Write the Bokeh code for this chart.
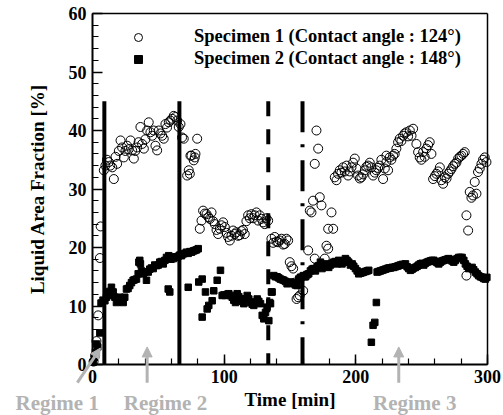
from bokeh.plotting import figure
from bokeh.models import (Range1d, FixedTicker, Legend, LegendItem, Arrow, NormalHead,
                          LinearAxis)
from bokeh.core.properties import value
from bokeh.embed import file_html
from bokeh.resources import INLINE

# ---------------- data ----------------
t1 = [0.8, 2.0, 3.0, 4.3, 5.6, 6.2,
      8.6, 9.8, 11.0, 12.4, 13.5, 15.0, 16.2, 17.5, 18.7, 20.0, 21.3, 22.5, 23.8, 25.0, 26.3, 27.5,
      28.9, 30.1, 31.4, 32.5, 33.9, 35.0, 36.4, 37.7, 39.0, 40.2, 41.5, 42.7, 44.0, 45.3, 46.5, 47.8,
      49.1, 50.3, 51.6, 52.9, 54.1, 55.4, 56.6, 57.9, 59.2, 60.5, 61.7, 63.0, 64.3, 65.5, 66.8,
      68.0, 69.3, 71.9, 73.1, 73.9, 74.4, 75.2, 76.9, 77.7, 78.2, 79.5,
      81.5, 82.8, 84.0, 85.3, 86.6, 88.0, 89.1, 90.4, 91.6, 92.9, 94.2, 95.4, 96.7, 98.0, 99.2, 100.5,
      101.8, 103.0, 104.3, 105.5, 106.8, 108.0, 109.3, 110.5, 111.8, 113.1, 114.3, 115.6, 116.9, 118.2,
      119.5, 120.7, 122.0, 123.2, 124.5, 125.8, 127.0, 128.3, 129.6, 130.8, 132.1, 133.4,
      135.9, 137.2, 138.4, 139.7, 141.0, 142.2, 143.5, 144.8, 146.0, 147.3, 148.6, 149.8, 151.1, 152.4,
      153.7, 155.0, 156.2, 157.4, 158.7,
      160.0, 162.5, 163.8, 165.0, 166.3, 167.5, 168.8, 168.8, 170.1, 171.4, 172.6, 173.9, 176.4, 177.7,
      179.0, 179.0, 181.5, 182.8,
      184.0, 185.3, 186.5, 187.8, 189.0, 190.3, 191.6, 192.9, 194.1, 195.4, 196.7, 197.9, 199.2, 200.5,
      201.7, 203.0, 204.2, 205.5, 206.8, 208.0, 209.3, 210.6, 211.8, 213.1, 214.4, 215.6, 216.9, 218.1,
      219.4, 220.7, 222.0, 223.2, 223.2,
      224.5, 225.7, 227.0, 228.3, 229.5, 230.8, 232.1, 233.3, 234.6, 235.9, 237.1, 238.4, 239.7, 241.0,
      242.3, 243.5,
      246.0, 247.3, 248.5, 249.8, 251.1, 252.3, 253.6, 254.9, 256.1, 257.4,
      258.7, 260.0, 261.2, 262.5, 263.8, 265.0, 266.3, 267.6, 268.9, 270.1, 271.4, 272.6, 273.9, 275.2,
      276.4, 277.7, 279.0, 280.2, 281.5, 282.7,
      284.0, 284.0, 285.3, 286.5, 287.8, 289.0, 290.3, 291.6, 292.8, 294.1, 295.4, 296.6, 297.9, 299.2]
v1 = [0.5, 1.5, 4.0, 8.4, 18.2, 23.6,
      33.2, 34.0, 35.0, 34.6, 34.0, 33.7, 31.7, 35.5, 34.3, 36.5, 38.3, 37.1, 35.4, 36.5, 37.4, 36.8,
      38.3, 36.6, 35.2, 36.5, 37.1, 38.0, 40.6, 37.7, 36.9, 38.5, 40.0, 41.4, 39.7, 39.1, 40.0, 37.4,
      36.6, 40.0, 39.5, 39.1, 38.6, 41.1, 40.5, 41.4, 41.7, 42.0, 42.5, 42.3, 41.7, 40.6, 41.1,
      38.8, 38.6, 32.3, 33.2, 32.6, 35.7, 35.7, 34.9, 35.4, 36.0, 38.6,
      23.2, 24.6, 26.3, 25.8, 25.7, 25.2, 24.9, 26.0, 24.5, 24.0, 23.0, 22.3, 23.2, 23.8, 24.3, 23.5,
      22.5, 21.8, 21.2, 22.0, 22.9, 22.3, 22.6, 22.0, 22.1, 22.8, 23.0, 22.3, 24.5, 25.5,
      25.0, 25.7, 25.0, 25.5, 26.0, 24.6, 25.5, 24.9, 24.3, 24.0, 25.0, 24.6,
      21.5, 20.8, 21.8, 21.0, 20.9, 21.2, 21.5, 20.5, 20.6, 21.5, 21.2, 17.5, 16.8, 16.4,
      14.0, 11.2, 11.5, 11.8, 14.9,
      12.6, 15.2, 19.5, 26.3, 26.0, 28.0, 18.1, 34.3, 40.0, 36.9, 28.6, 27.2, 18.1, 20.3,
      19.8, 23.2, 26.0, 23.2,
      32.0, 31.5, 32.6, 33.2, 32.8, 33.7, 33.0, 34.0, 32.3, 33.0, 33.7, 34.5, 35.2, 33.5,
      32.3, 31.8, 32.0, 32.5, 33.2, 33.8, 34.0, 34.5, 33.7, 32.3, 32.8, 33.2, 33.6, 34.0,
      35.0, 31.7, 33.5, 34.6, 35.7,
      33.2, 35.4, 35.0, 35.7, 36.0, 36.9, 38.0, 38.6, 38.2, 39.1, 39.5, 39.7, 39.0, 40.0,
      39.1, 40.3,
      37.7, 36.3, 35.4, 35.0, 36.3, 35.5, 36.9, 37.5, 38.0, 36.0,
      31.7, 32.2, 32.6, 33.0, 33.7, 31.5, 30.9, 32.0, 31.8, 32.6, 33.0, 33.4, 33.9, 34.3,
      34.5, 35.2, 35.5, 35.7, 36.0, 36.3,
      25.5, 15.2, 22.9, 29.5, 28.5, 28.9, 31.2, 29.2, 32.9, 33.5, 34.3, 35.0, 35.4, 34.6]

t2 = [0.5, 1.5, 2.2, 3.0, 4.0, 5.6, 6.5, 8.0,
      9.4, 10.6, 11.9, 13.1, 14.4, 15.7, 17.0, 18.2, 19.5, 20.7, 22.0, 23.3, 24.5, 25.8, 27.0, 28.3,
      29.6, 30.9, 32.1, 33.4, 34.7, 35.2, 35.9, 36.4, 37.2, 38.5, 39.7, 41.0, 42.3, 43.5, 44.8, 46.1,
      47.3, 48.6, 49.9, 51.1, 52.4, 53.7, 55.0, 56.2, 57.5, 58.7, 57.9, 59.6, 61.3, 62.5, 63.8, 65.0,
      66.3, 67.6, 68.8, 70.1, 71.4, 72.7, 72.7, 74.0, 75.2, 76.5, 77.8, 79.0, 80.3,
      80.7, 83.3, 83.3, 85.8, 87.1, 88.3, 90.9, 92.1, 94.7, 97.2, 98.5, 99.8, 101.0, 102.3, 103.5,
      104.8, 106.1, 107.3, 108.6, 109.9, 111.1, 112.4, 113.7, 114.9, 116.2, 117.5, 118.7, 120.0,
      121.3, 122.5, 123.8, 125.1, 126.3, 127.6, 128.9, 130.1, 131.4, 132.6, 133.9,
      134.6, 135.2, 135.9, 136.4, 137.7, 139.0, 140.2, 141.5, 142.7, 144.0, 145.3, 146.5, 147.8,
      149.1, 150.3, 151.6, 152.9, 154.1, 155.4, 156.6, 157.9,
      160.4, 161.7, 162.9, 164.2, 165.5, 166.8, 168.0, 169.3, 170.6, 171.8, 173.1, 174.3, 175.6,
      176.9, 178.1, 179.4, 180.7, 181.9, 183.2, 184.5, 185.7, 187.0, 188.2, 189.5, 190.8, 192.1,
      193.3, 194.6, 195.9, 197.2, 198.4, 199.7, 201.0, 202.2, 203.5, 204.8, 206.0, 207.3, 208.6,
      209.8, 216.2, 217.5, 218.7, 220.0, 221.3, 222.5, 223.8, 225.1, 226.3, 227.6, 228.8, 230.1,
      231.4, 232.6, 233.9, 235.2, 236.4, 237.7, 239.0, 240.2, 241.5, 242.8, 244.0, 245.3, 246.6,
      247.8, 249.0, 250.3, 251.6, 252.8, 254.1, 255.4, 256.6, 257.9, 259.2, 260.5, 261.7, 263.0,
      264.3, 265.5, 266.8, 268.0, 269.3, 270.6, 271.8, 273.1, 274.4, 275.6, 276.9, 278.2, 279.4,
      280.7, 282.0, 283.2, 284.5, 285.7, 287.0, 288.3, 289.5, 290.8, 292.1, 293.3, 294.6, 295.9,
      297.1, 298.4, 299.5,
      211.8, 213.1, 214.4, 215.6]
v2 = [0.4, 1.2, 2.1, 3.5, 3.0, 5.4, 10.5, 11.0,
      10.9, 11.5, 11.8, 12.5, 13.2, 12.4, 11.5, 10.6, 11.0, 11.5, 10.8, 10.6, 11.5, 12.9, 13.0, 13.5,
      14.0, 14.4, 14.5, 14.6, 15.5, 17.5, 17.8, 17.2, 16.0, 15.5, 15.8, 14.4, 15.8, 16.3, 16.5, 16.4,
      17.0, 16.9, 17.0, 17.5, 17.6, 17.2, 17.8, 18.3, 12.9, 12.4, 18.6, 18.0, 18.1, 18.4, 18.3, 18.5,
      18.7, 18.6, 18.9, 19.0, 19.2, 13.2, 19.0, 19.3, 19.2, 19.4, 19.5, 19.6, 19.8,
      14.1, 14.6, 8.1, 12.4, 9.5, 10.1, 10.9, 12.6, 14.4, 16.1, 11.8, 11.9, 11.8, 12.0, 12.1,
      11.8, 11.5, 11.0, 10.6, 12.1, 11.6, 11.2, 10.8, 10.4, 11.2, 11.8, 11.2, 10.6,
      10.3, 10.1, 10.7, 11.2, 10.8, 10.4, 8.4, 7.8, 8.9, 9.8, 7.5,
      10.6, 10.4, 12.4, 12.4, 15.2, 15.0, 15.0, 14.8, 14.6, 14.5, 14.4, 14.2, 13.8,
      14.0, 14.1, 14.0, 13.8, 13.6, 13.5, 14.6, 14.9,
      15.2, 15.0, 15.4, 15.5, 16.0, 16.3, 16.4, 16.0, 16.7, 16.9, 17.5, 16.4, 16.8,
      17.2, 16.9, 16.6, 17.0, 17.3, 17.5, 17.6, 17.2, 17.8, 17.5, 17.2, 17.6, 18.1,
      17.8, 17.5, 17.0, 17.2, 16.8, 16.4, 16.0, 15.5, 15.6, 15.7, 15.8, 15.9, 16.0,
      16.1, 15.8, 15.9, 16.0, 16.1, 16.2, 16.3, 16.4, 16.5, 16.5, 16.6, 16.6, 16.7,
      16.8, 16.9, 17.0, 17.1, 17.1, 17.2, 16.7, 16.4, 16.1, 16.3, 16.5, 16.6, 16.8,
      17.0, 17.2, 17.3, 17.0, 17.3, 17.5, 17.6, 17.7, 17.8, 17.8, 17.6, 17.4, 17.2,
      17.5, 17.7, 17.8, 17.9, 18.0, 18.1, 17.9, 17.7, 17.5, 17.8, 18.1, 18.3, 18.3,
      18.3, 17.8, 17.2, 16.8, 16.4, 16.5, 16.6, 16.2, 15.8, 15.5, 15.2, 15.0, 14.9,
      14.7, 14.6, 14.9,
      3.8, 6.7, 7.2, 10.6]

solid_lines_x = [9, 66]
dashed_lines_x = [133.5]
dashdot_lines_x = [159.5]
line_top = 45
line_bottom = 0

x_major = [0, 100, 200, 300]
x_minor = list(range(0, 301, 20))
y_major = list(range(0, 61, 10))
y_minor = list(range(0, 61, 2))

legend_labels = ["Specimen 1 (Contact angle : 124\u00b0)",
                 "Specimen 2 (Contact angle : 148\u00b0)"]

# regime annotations (data units, below / left of the axes)
regime_labels = ["Regime 1", "Regime 2", "Regime 3"]
regime_label_x = [-26.8, 55.4, 244.7]
regime_label_y = [-6.6, -6.6, -6.6]
arrow_x_start = [-11.5, 41.5, 232.6]
arrow_y_start = [-3.1, -3.1, -3.1]
arrow_x_end = [6.0, 41.5, 232.6]
arrow_y_end = [2.8, 3.0, 3.0]

FONT = "Liberation Serif"
GRAY = "#b3b3b3"

# ---------------- geometry (canvas px) ----------------
W, H = 503, 415
X0_PX, X300_PX = 92, 487     # where time = 0 and time = 300 fall
Y60_PX, Y0_PX = 13, 364      # where fraction = 60 and fraction = 0 fall
X_END, Y_END = 300, 60
x_scale = (X300_PX - X0_PX) / X_END
y_scale = (Y0_PX - Y60_PX) / Y_END

p = figure(width=W, height=H, output_backend="svg", toolbar_location=None,
           x_range=Range1d(-X0_PX / x_scale, X_END + (W - X300_PX) / x_scale),
           y_range=Range1d(-(H - Y0_PX) / y_scale, Y_END + Y60_PX / y_scale),
           min_border=0)
p.xgrid.visible = False
p.ygrid.visible = False
p.outline_line_color = None
p.background_fill_color = "white"
p.border_fill_color = "white"

# regime separator lines
p.segment(x0=solid_lines_x, y0=[line_top] * len(solid_lines_x), x1=solid_lines_x,
          y1=[line_bottom] * len(solid_lines_x), line_color="black", line_width=4)
p.segment(x0=dashed_lines_x, y0=[line_top] * len(dashed_lines_x), x1=dashed_lines_x,
          y1=[line_bottom] * len(dashed_lines_x), line_color="black", line_width=4,
          line_dash="15 13")
p.segment(x0=dashdot_lines_x, y0=[line_top] * len(dashdot_lines_x), x1=dashdot_lines_x,
          y1=[line_bottom] * len(dashdot_lines_x), line_color="black", line_width=4,
          line_dash="31 12 3 13")

r1 = p.scatter(x=t1, y=v1, marker="circle", size=9, fill_color=None,
               line_color="black", line_width=1)
r2 = p.scatter(x=t2, y=v2, marker="square", size=6.5, fill_color="black",
               line_color="black")

# regime arrows and labels
for xs, ys, xe, ye in zip(arrow_x_start, arrow_y_start, arrow_x_end, arrow_y_end):
    p.add_layout(Arrow(x_start=xs, y_start=ys, x_end=xe, y_end=ye,
                       line_color=GRAY, line_width=3,
                       end=NormalHead(size=10, fill_color=GRAY, line_color=GRAY)))
p.text(x=regime_label_x, y=regime_label_y, text=regime_labels, text_align="center",
       text_baseline="alphabetic", text_font=value(FONT), text_font_style="bold",
       text_font_size="21px", text_color=GRAY)

LEG_H = 59.5
legend = Legend(items=[LegendItem(label=legend_labels[0], renderers=[r1]),
                       LegendItem(label=legend_labels[1], renderers=[r2])],
                location=(X0_PX + 5, H - 16.5 - LEG_H), margin=0, padding=7,
                spacing=1, glyph_width=68, glyph_height=20, label_height=20,
                label_standoff=22, label_text_font=FONT, label_text_font_style="bold",
                label_text_font_size="18.5px", label_text_color="black",
                background_fill_alpha=0, border_line_alpha=0)
p.add_layout(legend, "center")

# axes pinned to time = 0 and fraction = 0
xa, ya = p.xaxis[0], p.yaxis[0]
xa.fixed_location = 0
ya.fixed_location = 0
xa.bounds = (0, X_END)
ya.bounds = (0, Y_END)
for ax in (xa, ya):
    ax.axis_line_width = 2
    ax.axis_line_color = "black"
    ax.major_tick_in = 10
    ax.major_tick_out = 0
    ax.minor_tick_in = 6
    ax.minor_tick_out = 0
    ax.major_tick_line_width = 1.5
    ax.minor_tick_line_width = 1.2
    ax.major_label_text_font = FONT
    ax.major_label_text_font_style = "bold"
    ax.major_label_text_font_size = "18px"
    ax.major_label_text_color = "black"
    ax.axis_label_text_font = FONT
    ax.axis_label_text_font_style = "bold"
    ax.axis_label_text_font_size = "19px"
    ax.axis_label_text_color = "black"

xa.ticker = FixedTicker(ticks=x_major, minor_ticks=x_minor)
ya.ticker = FixedTicker(ticks=y_major, minor_ticks=y_minor)
xa.axis_label = "Time [min]"
ya.axis_label = "Liquid Area Fraction [%]"
xa.major_label_standoff = 5
xa.axis_label_standoff = 3
ya.major_label_standoff = 6
ya.axis_label_standoff = 18

# top and right border lines of the plotting box
top_ax = LinearAxis(fixed_location=Y_END, bounds=(0, X_END),
                    ticker=FixedTicker(ticks=[]), axis_line_width=1.5,
                    major_tick_line_color=None, minor_tick_line_color=None,
                    major_label_text_alpha=0)
right_ax = LinearAxis(fixed_location=X_END, bounds=(0, Y_END),
                      ticker=FixedTicker(ticks=[]), axis_line_width=1.5,
                      major_tick_line_color=None, minor_tick_line_color=None,
                      major_label_text_alpha=0)
p.add_layout(top_ax, "above")
p.add_layout(right_ax, "right")

open("out.html", "w").write(file_html(p, INLINE))
